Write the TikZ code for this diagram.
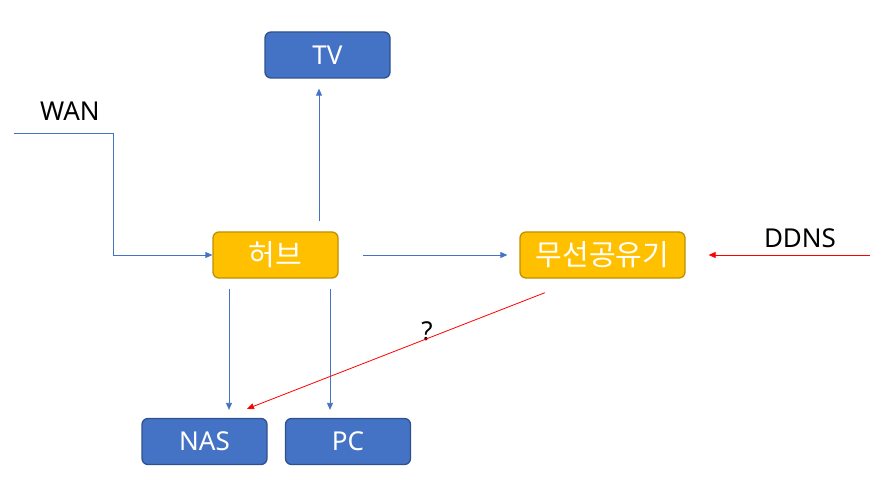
\documentclass[tikz,border=0pt]{standalone}
\usepackage{fontspec}
\setmainfont{Noto Sans}
\newfontfamily\kofont{Noto Sans CJK KR}
\usetikzlibrary{arrows.meta,calc}
\definecolor{bfill}{HTML}{4472C4}
\definecolor{bdraw}{HTML}{2F528F}
\definecolor{gfill}{HTML}{FFC000}
\definecolor{gdraw}{HTML}{BF9000}
\definecolor{lnblue}{HTML}{4472C4}
\definecolor{lnred}{HTML}{FF0000}
\tikzset{
  bluebox/.style={draw=bdraw,fill=bfill,line width=1.3pt,rounded corners=6pt,minimum width=125pt,minimum height=46pt,text=white,inner sep=0pt,font=\fontsize{26}{30}\selectfont},
  goldbox/.style={draw=gdraw,fill=gfill,line width=1.3pt,rounded corners=6pt,minimum height=46pt,text=white,inner sep=0pt,font=\kofont\fontsize{29}{33}\selectfont},
  bluearr/.style={draw=lnblue,line width=0.8pt,-{Triangle[length=7pt,width=6pt]}},
  redarr/.style={draw=lnred,line width=0.8pt,-{Triangle[length=7pt,width=6pt]}},
  lbl/.style={font=\fontsize{26}{30}\selectfont,text=black,inner sep=0pt}
}
\begin{document}
\begin{tikzpicture}[x=1pt,y=-1pt]
\useasboundingbox (0,0) rectangle (879,500);
\node[bluebox] (tv) at (327.5,55) {TV};
\node[goldbox,minimum width=125pt] (hub) at (275.5,255) {허브};
\node[goldbox,minimum width=165pt] (router) at (602.5,255) {무선공유기};
\node[bluebox] (nas) at (204.5,441.5) {NAS};
\node[bluebox] (pc) at (348,441.5) {PC};
\node[lbl] (wanlbl) at (70,111) {WAN};
\node[lbl] (ddnslbl) at (800,238) {DDNS};
\node[lbl] (qlbl) at (427,331) {?};
\coordinate (wan) at (14,133);
\coordinate (wanbend) at (113,133);
\coordinate (ddns) at (870,255);
% WAN to hub
\draw[bluearr] (wan) -- (wanbend) |- (hub.west);
% hub to TV
\draw[bluearr,shorten <=10pt,shorten >=10pt] ([xshift=43.5pt]hub.north) -- ([xshift=43.5pt]hub.north |- tv.south);
% hub to router
\draw[bluearr,shorten <=24pt,shorten >=12pt] (hub.east) -- (router.west);
% DDNS to router
\draw[redarr,shorten >=23pt] (ddns) -- (router.east);
% hub to NAS and PC
\draw[bluearr,shorten <=10pt,shorten >=8pt] ([xshift=-46.5pt]hub.south) -- ([xshift=-46.5pt]hub.south |- nas.north);
\draw[bluearr,shorten <=10pt,shorten >=8pt] ([xshift=54.5pt]hub.south) -- ([xshift=54.5pt]hub.south |- pc.north);
% router to NAS (red)
\draw[redarr] ([shift={(-57.5,14)}]router.south) -- ([shift={(42.5,-9)}]nas.north);
\end{tikzpicture}
\end{document}
